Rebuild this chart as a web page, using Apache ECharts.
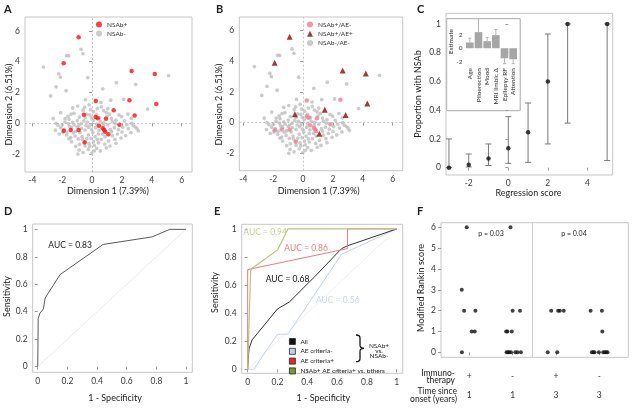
<!DOCTYPE html>
<html>
<head>
<meta charset="utf-8">
<script src="https://cdn.jsdelivr.net/npm/echarts@6/dist/echarts.min.js"></script>
<style>
html, body { margin: 0; padding: 0; background: #fff; }
#main { width: 632px; height: 408px; }
</style>
</head>
<body>
<div id="main"></div>
<script>
// ---- A / B : PCA scatter ----
const nsabNeg = [
  [-3.26,3.66],[-0.74,4.81],[-0.61,4.52],[-1.7,4.39],[-1.57,4.39],[-2.23,3.22],[-2.12,3.0],[-0.29,2.97],
  [-2.41,2.37],[-1.74,2.12],[-2.77,1.78],[1.62,2.64],[0.72,2.24],[2.92,2.53],[5.12,3.09],[-0.44,1.53],
  [2.11,1.55],[3.72,0.92],
  [-0.96,1.12],[-0.5,1.04],[0.62,1.06],[-2.1,0.69],[-1.41,0.6],[-1.21,0.65],[-0.36,0.58],[-0.09,0.88],
  [0.78,0.82],[1.16,0.6],[1.8,0.54],[1.98,0.43],[2.63,0.32],[-0.47,0.36],[-1.54,0.26],[-1.81,0.08],
  [-2.41,0.0],[-2.28,-0.13],[-1.59,-0.03],[-1.3,0.06],[-0.99,0.17],[-0.74,-0.03],[-0.3,0.08],[-0.12,-0.09],
  [0.08,0.19],[0.55,0.1],[0.78,0.02],[1.36,0.1],[1.56,-0.03],[2.16,0.15],[2.32,-0.09],[2.65,0.0],
  [2.76,-0.16],[3.01,-0.35],[3.1,-0.5],[-2.1,-0.29],[-1.86,-0.39],[-1.68,-0.57],[-1.37,-0.29],[-1.1,-0.52],
  [-0.72,-0.33],[-0.47,-0.44],[-0.23,-0.26],[-0.03,-0.42],[0.24,-0.29],[0.46,-0.46],[1.22,-0.39],[1.49,-0.29],
  [1.76,-0.42],[2.0,-0.57],[2.43,-0.35],[-1.7,-0.76],[-1.43,-0.94],[-1.14,-0.83],[-0.92,-1.02],[-0.67,-0.87],
  [-0.25,-0.76],[-0.07,-0.98],[0.2,-0.87],[0.42,-0.7],[0.62,-1.04],[0.87,-0.87],[1.36,-0.81],[1.53,-1.04],
  [1.94,-0.96],[-1.37,-1.2],[-0.85,-1.37],[-0.47,-1.48],[-0.21,-1.31],[0.15,-1.44],[0.42,-1.26],[0.84,-1.35],
  [1.2,-1.48],[-0.87,-1.74],[-0.25,-1.7],[-0.03,-1.96],[0.31,-1.63],[-0.47,-1.2],
  [-1.2,-0.1],[-0.55,0.15],[0.3,0.55],[0.1,0.75],[-0.2,1.2],[-0.6,0.85],[1.0,0.45],[1.3,0.3],
  [1.05,-0.1],[0.3,-0.05],[-0.05,0.35],[-0.85,0.4],[-1.6,0.45],[-2.0,-0.1],[-1.95,-0.6],[-1.25,-0.62],
  [-0.8,-0.6],[-0.35,-1.0],[0.05,-0.6],[0.7,-0.7],[1.1,-1.15],[1.7,-0.7],[2.25,-0.8],[2.9,-0.25],
  [0.95,-1.6],[-1.1,-1.5],[-0.6,-1.9],[0.55,-1.8],[-2.45,-0.45],[-1.0,-0.25],[0.35,0.95],[1.25,1.5],
  [0.6,1.35],[-1.3,1.0],
  [-1.5,-0.2],[-0.9,-0.15],[-0.15,0.55],[0.5,0.35],[0.95,0.7],[1.6,0.2],[2.05,-0.25],[1.3,-0.55],
  [0.35,-1.05],[-0.15,-1.5],[-0.65,-1.05],[-1.55,-1.0],[-2.2,-0.7],[0.1,-1.2],[0.75,-0.15],[-0.4,-0.15],
  [-1.8,0.3],[2.4,0.6],[1.05,0.95],[-0.95,-2.0],[0.15,-1.8],[1.6,-1.3],[2.6,-0.6],[-2.6,0.3]
];
const nsabPosAEneg = [
  [0.25,1.45],[2.5,1.5],[0.24,0.4],[0.38,0.32],[0.93,0.29],[0.46,-0.16],[1.83,-0.1],
  [0.72,-0.33],[0.81,-0.44],[0.88,-0.55],[-1.9,-0.49],[-1.43,-0.44],[-0.9,-0.44],[-0.5,-1.25]
];
const nsabPosAEpos = [
  [-0.9,5.6],[-1.9,3.9],[2.65,3.4],[4.2,3.2],[4.3,1.25],[1.45,0.85],[-0.55,0.55],[2.85,0.5],[1.09,-0.72]
];
const pcaTicksX = [-4, -2, 0, 2, 4, 6];
const pcaTicksY = [-2, 0, 2, 4, 6];

// ---- C : proportion with NSAb by regression score ----
const scoreX = [-3, -2, -1, 0, 1, 2, 3, 5];
const propNSAb = [0, 0.02, 0.063, 0.135, 0.246, 0.6, 1, 1];
const propLow = [0, 0.005, 0.015, 0.03, 0.037, 0.165, 0.31, 0.05];
const propHigh = [0.2, 0.095, 0.165, 0.355, 0.45, 0.93, 1, 1];
const scoreTicks = [-2, 0, 2, 4];
const propTicks = [0, 0.2, 0.4, 0.6, 0.8, 1];

// inset: regression estimates
const insetVars = ['Age', 'Piloerection', 'Mood', 'MRI limbic \u0394', 'Epilepsy RF', 'Attention'];
const insetEst = [0.85, 2.4, 1.05, 1.95, -1.5, -1.65];
const insetErrEnd = [1.5, 4.4, 1.6, 2.8, -2.3, -2.3];
const insetTicks = [-2, 0, 2];

// ---- D : ROC ----
const rocFpr = [0, 0.003, 0.015, 0.027, 0.038, 0.05, 0.15, 0.44, 0.77, 0.89, 1];
const rocTpr = [0, 0.35, 0.39, 0.39, 0.42, 0.5, 0.67, 0.89, 0.945, 1, 1];
const unitTicks = [0, 0.2, 0.4, 0.6, 0.8, 1];

// ---- E : ROC by subgroup ----
const rocAll = [[0,0],[0.005,0.1],[0.01,0.15],[0.03,0.21],[0.2,0.43],[0.28,0.48],[0.45,0.66],[0.63,0.86],[0.67,0.88],[1,1]];
const rocAEneg = [[0,0],[0.04,0],[0.2,0.25],[0.27,0.25],[0.63,0.82],[1,1]];
const rocAEpos = [[0,0],[0,0.71],[0.67,0.86],[0.67,1],[1,1]];
const rocCombo = [[0,0],[0.02,0.7],[0.03,0.72],[0.2,0.85],[0.27,1],[1,1]];

// ---- F : modified Rankin score ----
const mrsPoints = [
  [0.94,6],[1.95,6],[0.825,3],
  [0.88,2],[1.14,2],[2.0,2],[2.17,2],[2.89,2],[3.05,2],[3.09,2],[3.18,2],[3.8,2],[4.06,2],
  [1.055,1],[1.125,1],[1.85,1],[1.88,1],[1.98,1],[4.07,1],
  [0.83,0],[1.86,0],[1.89,0],[1.92,0],[1.96,0],[2.06,0],[2.11,0],[2.19,0],[2.81,0],[3.03,0],
  [3.83,0],[3.86,0],[3.89,0],[3.99,0],[4.09,0],[4.13,0],[4.16,0],[4.19,0]
];
const groupTicks = [1, 2, 3, 4];
const immunoLabels = ['+', '-', '+', '-'];
const onsetLabels = ['1', '1', '3', '3'];
const mrsTicks = [0, 1, 2, 3, 4, 5, 6];

const FONT = 'Lato';
const chart = echarts.init(document.getElementById('main'), null, { renderer: 'canvas' });

function vAxis(grid, min, max, ticks, margin) {
  return {
    type: 'value', gridIndex: grid, min: min, max: max,
    splitLine: { show: false },
    axisLine: { show: false },
    axisTick: { show: true, length: 3, customValues: ticks, lineStyle: { color: '#9a9a9a' } },
    axisLabel: { customValues: ticks, fontSize: 8.5, color: '#3a3a3a', fontFamily: FONT, margin: margin }
  };
}

function errRender(params, api) {
  const x = api.value(0);
  const p1 = api.coord([x, api.value(1)]);
  const p2 = api.coord([x, api.value(2)]);
  const w = 3;
  const st = { stroke: '#7a7a7a', lineWidth: 1 };
  return { type: 'group', children: [
    { type: 'line', shape: { x1: p1[0], y1: p1[1], x2: p2[0], y2: p2[1] }, style: st },
    { type: 'line', shape: { x1: p1[0] - w, y1: p1[1], x2: p1[0] + w, y2: p1[1] }, style: st },
    { type: 'line', shape: { x1: p2[0] - w, y1: p2[1], x2: p2[0] + w, y2: p2[1] }, style: st }
  ] };
}

function insetErrRender(params, api) {
  const i = api.value(0);
  const p1 = api.coord([i, api.value(1)]);
  const p2 = api.coord([i, api.value(2)]);
  const st = { stroke: '#b4b4b4', lineWidth: 1 };
  return { type: 'group', children: [
    { type: 'line', shape: { x1: p1[0], y1: p1[1], x2: p2[0], y2: p2[1] }, style: st },
    { type: 'line', shape: { x1: p2[0] - 1.5, y1: p2[1], x2: p2[0] + 1.5, y2: p2[1] }, style: st }
  ] };
}

function txt(x, y, s, o) {
  o = o || {};
  const font = (o.bold ? 'bold ' : '') + (o.size || 8.5) + 'px ' + FONT;
  return {
    type: 'text', x: x, y: y, rotation: o.rot || 0, z: 10,
    style: {
      text: s, fill: o.color || '#222', font: font,
      align: o.align || 'center', verticalAlign: o.va || 'middle',
      textAlign: o.align || 'center', textVerticalAlign: o.va || 'middle'
    }
  };
}

function brace(x, y0, y1) {
  const m = (y0 + y1) / 2;
  const st = { stroke: '#111', lineWidth: 1.3, fill: null };
  const seg = function (a, b, c) {
    return { type: 'bezierCurve', z: 10, shape: { x1: a[0], y1: a[1], x2: b[0], y2: b[1], cpx1: c[0], cpy1: c[1] }, style: st };
  };
  return [
    seg([x - 4, y0], [x, y0 + 3], [x, y0]),
    { type: 'line', z: 10, shape: { x1: x, y1: y0 + 3, x2: x, y2: m - 3 }, style: st },
    seg([x, m - 3], [x + 4, m], [x, m]),
    seg([x + 4, m], [x, m + 3], [x, m]),
    { type: 'line', z: 10, shape: { x1: x, y1: m + 3, x2: x, y2: y1 - 3 }, style: st },
    seg([x, y1 - 3], [x - 4, y1], [x, y1])
  ];
}

const zeroLines = {
  silent: true, symbol: 'none', label: { show: false },
  lineStyle: { color: '#b8b8b8', type: [2, 2], width: 0.8 },
  data: [{ xAxis: 0 }, { yAxis: 0 }]
};

const box = { show: true, borderColor: '#c6c6c6', borderWidth: 1 };
const R = Math.PI / 2;

const option = {
  animation: false,
  backgroundColor: '#ffffff',
  grid: [
    Object.assign({ left: 25, top: 17, width: 167, height: 155 }, box),
    Object.assign({ left: 239.3, top: 17, width: 163.4, height: 153.7 }, box),
    Object.assign({ left: 446, top: 13.3, width: 166.7, height: 161.7 }, box),
    { left: 465.5, top: 18.7, width: 52, height: 46.3, show: false },
    Object.assign({ left: 32.7, top: 224, width: 159.6, height: 148.3 }, box),
    Object.assign({ left: 241.7, top: 224.3, width: 161, height: 149 }, box),
    Object.assign({ left: 441, top: 222.7, width: 187.3, height: 134.6 }, box)
  ],
  xAxis: [
    vAxis(0, -4.49, 6.69, pcaTicksX, 4),
    vAxis(1, -4.27, 6.67, pcaTicksX, 4),
    vAxis(2, -3.15, 5.28, scoreTicks, 4),
    {
      type: 'category', gridIndex: 3, data: insetVars, z: 3,
      axisLine: { show: false }, axisTick: { show: false },
      axisLabel: { rotate: 90, interval: 0, fontSize: 6.5, color: '#333', fontFamily: FONT, margin: 3 }
    },
    vAxis(4, -0.034, 1.042, unitTicks, 4),
    vAxis(5, -0.04, 1.04, unitTicks, 4),
    (function () {
      const a = vAxis(6, 0.346, 4.67, groupTicks, 9);
      a.axisLabel.formatter = function (v) {
        const i = groupTicks.indexOf(v);
        return '{a|' + immunoLabels[i] + '}\n{b|' + onsetLabels[i] + '}';
      };
      a.axisLabel.rich = {
        a: { fontSize: 8.5, lineHeight: 19, color: '#333', fontFamily: FONT },
        b: { fontSize: 8.5, lineHeight: 19, color: '#333', fontFamily: FONT }
      };
      return a;
    })()
  ],
  yAxis: [
    vAxis(0, -3.17, 6.91, pcaTicksY, 5),
    vAxis(1, -3.13, 6.89, pcaTicksY, 5),
    vAxis(2, -0.051, 1.074, propTicks, 5),
    (function () {
      const a = vAxis(3, -2.5, 4.4, insetTicks, 3);
      a.z = 3;
      a.axisTick.show = false;
      a.axisLabel.fontSize = 6.5;
      return a;
    })(),
    vAxis(4, -0.041, 1.039, unitTicks, 5),
    vAxis(5, -0.0285, 1.033, unitTicks, 5),
    vAxis(6, -0.24, 6.22, mrsTicks, 5)
  ],
  legend: [
    {
      left: 96, top: 21, orient: 'vertical', padding: 0, itemWidth: 6, itemHeight: 6, itemGap: 2,
      icon: 'circle', textStyle: { fontSize: 6.5, color: '#333', fontFamily: FONT },
      data: ['NSAb+', 'NSAb-']
    },
    {
      left: 307, top: 21, orient: 'vertical', padding: 0, itemWidth: 6, itemHeight: 6, itemGap: 2.3,
      icon: 'circle', textStyle: { fontSize: 6.5, color: '#333', fontFamily: FONT },
      data: ['NSAb+/AE-', { name: 'NSAb+/AE+', icon: 'triangle' }, 'NSAb-/AE-']
    },
    {
      left: 289, top: 338, orient: 'vertical', padding: 0, itemWidth: 6, itemHeight: 6, itemGap: 2.8,
      icon: 'rect', itemStyle: { borderColor: '#222', borderWidth: 0.8 },
      textStyle: { fontSize: 6.5, color: '#222', fontFamily: FONT },
      data: ['All', 'AE criteria-', 'AE criteria+', 'NSAb+ AE criteria+ vs. others']
    }
  ],
  series: [
    // A
    { name: 'NSAb-', type: 'scatter', xAxisIndex: 0, yAxisIndex: 0, data: nsabNeg,
      symbolSize: 3.7, itemStyle: { color: '#bebebe' }, markLine: zeroLines },
    { name: 'NSAb+', type: 'scatter', xAxisIndex: 0, yAxisIndex: 0,
      data: nsabPosAEneg.concat(nsabPosAEpos), symbolSize: 4.5, itemStyle: { color: '#ff1010' } },
    // B
    { name: 'NSAb-/AE-', type: 'scatter', xAxisIndex: 1, yAxisIndex: 1, data: nsabNeg,
      symbolSize: 3.7, itemStyle: { color: '#bebebe' }, markLine: zeroLines },
    { name: 'NSAb+/AE-', type: 'scatter', xAxisIndex: 1, yAxisIndex: 1, data: nsabPosAEneg,
      symbolSize: 4.5, itemStyle: { color: '#ee7d95' } },
    { name: 'NSAb+/AE+', type: 'scatter', xAxisIndex: 1, yAxisIndex: 1, data: nsabPosAEpos,
      symbol: 'triangle', symbolSize: 6, itemStyle: { color: '#8b0a0a' } },
    // C
    { type: 'custom', xAxisIndex: 2, yAxisIndex: 2, renderItem: errRender,
      encode: { x: 0, y: [1, 2] },
      data: scoreX.map(function (x, i) { return [x, propLow[i], propHigh[i]]; }) },
    { type: 'scatter', xAxisIndex: 2, yAxisIndex: 2, symbolSize: 4.5, z: 4,
      itemStyle: { color: '#111' },
      data: scoreX.map(function (x, i) { return [x, propNSAb[i]]; }) },
    // C inset
    { type: 'bar', xAxisIndex: 3, yAxisIndex: 3, data: insetEst, barCategoryGap: '12%',
      itemStyle: { color: '#a6a6a6' }, z: 5 },
    { type: 'custom', xAxisIndex: 3, yAxisIndex: 3, renderItem: insetErrRender, z: 5,
      encode: { x: 0, y: [1, 2] },
      data: insetVars.map(function (c, i) { return [i, insetEst[i], insetErrEnd[i]]; }) },
    // D
    { type: 'line', xAxisIndex: 4, yAxisIndex: 4, data: [[0, 0], [1, 1]], symbol: 'none',
      lineStyle: { color: '#ececec', width: 1 } },
    { type: 'line', xAxisIndex: 4, yAxisIndex: 4, symbol: 'none',
      data: rocFpr.map(function (f, i) { return [f, rocTpr[i]]; }),
      lineStyle: { color: '#5a5a5a', width: 1 } },
    // E
    { type: 'line', xAxisIndex: 5, yAxisIndex: 5, data: [[0, 0], [1, 1]], symbol: 'none',
      lineStyle: { color: '#f0f0f0', width: 1 } },
    { name: 'AE criteria-', type: 'line', xAxisIndex: 5, yAxisIndex: 5, data: rocAEneg, symbol: 'none',
      itemStyle: { color: '#c2d2ea' }, lineStyle: { color: '#c2d2ea', width: 1 } },
    { name: 'All', type: 'line', xAxisIndex: 5, yAxisIndex: 5, data: rocAll, symbol: 'none',
      itemStyle: { color: '#111' }, lineStyle: { color: '#333', width: 1 } },
    { name: 'AE criteria+', type: 'line', xAxisIndex: 5, yAxisIndex: 5, data: rocAEpos, symbol: 'none',
      itemStyle: { color: '#e8292b' }, lineStyle: { color: '#ef7b7b', width: 1 } },
    { name: 'NSAb+ AE criteria+ vs. others', type: 'line', xAxisIndex: 5, yAxisIndex: 5, data: rocCombo,
      symbol: 'none', itemStyle: { color: '#7a9a2e' }, lineStyle: { color: '#b9c47c', width: 1.2 } },
    // F
    { type: 'scatter', xAxisIndex: 6, yAxisIndex: 6, data: mrsPoints, symbolSize: 4,
      itemStyle: { color: '#111' },
      markLine: { silent: true, symbol: 'none', label: { show: false },
        lineStyle: { color: '#cfcfcf', type: 'solid', width: 1 }, data: [{ xAxis: 2.46 }] } }
  ],
  graphic: [
    { type: 'rect', z: -1, shape: { x: 446.7, y: 18.7, width: 73.5, height: 92 },
      style: { fill: '#fff', stroke: '#a8a8a8', lineWidth: 1 } },
    txt(451, 41.5, 'Estimate', { rot: R, size: 6.5 }),
    txt(4, 9, 'A', { bold: true, size: 11, align: 'left' }),
    txt(216, 9, 'B', { bold: true, size: 11, align: 'left' }),
    txt(417, 9, 'C', { bold: true, size: 11, align: 'left' }),
    txt(4, 211, 'D', { bold: true, size: 11, align: 'left' }),
    txt(214, 211, 'E', { bold: true, size: 11, align: 'left' }),
    txt(417, 211, 'F', { bold: true, size: 11, align: 'left' }),
    txt(108, 191, 'Dimension 1 (7.39%)', { size: 9 }),
    txt(9.3, 104.5, 'Dimension 2 (6.51%)', { rot: R, size: 9 }),
    txt(318.7, 191, 'Dimension 1 (7.39%)', { size: 9 }),
    txt(219.3, 104.5, 'Dimension 2 (6.51%)', { rot: R, size: 9 }),
    txt(528.5, 193, 'Regression score', { size: 9 }),
    txt(418.5, 94, 'Proportion with NSAb', { rot: R, size: 9 }),
    txt(115, 398, '1 - Specificity', { size: 9 }),
    txt(7.3, 296.5, 'Sensitivity', { rot: R, size: 9 }),
    txt(323.3, 398, '1 - Specificity', { size: 9 }),
    txt(215, 292.5, 'Sensitivity', { rot: R, size: 9 }),
    txt(421, 288, 'Modified Rankin score', { rot: R, size: 9 }),
    txt(48.3, 245, 'AUC = 0.83', { align: 'left', size: 8.5 }),
    txt(243.3, 232.3, 'AUC = 0.94', { align: 'left', size: 8.5, color: '#c9d08e' }),
    txt(284.3, 248.3, 'AUC = 0.86', { align: 'left', size: 8.5, color: '#ef7b7b' }),
    txt(265.7, 279.3, 'AUC = 0.68', { align: 'left', size: 8.5, color: '#111' }),
    txt(316, 300, 'AUC = 0.56', { align: 'left', size: 8.5, color: '#c8d6ea' })
  ].concat(brace(360, 335, 361.7), [
    txt(379, 345.5, 'NSAb+', { size: 6.5 }),
    txt(379, 350.8, 'vs.', { size: 6.5 }),
    txt(379, 356, 'NSAb-', { size: 6.5 }),
    txt(491, 233.3, 'p = 0.03', { size: 7 }),
    txt(574, 233.3, 'p = 0.04', { size: 7 }),
    txt(455, 373.3, 'Immuno-', { align: 'right', size: 8.5 }),
    txt(455, 380.5, 'therapy', { align: 'right', size: 8.5 }),
    txt(457, 391.7, 'Time since', { align: 'right', size: 8.5 }),
    txt(457, 398.8, 'onset (years)', { align: 'right', size: 8.5 })
  ])
};

chart.setOption(option);
</script>
</body>
</html>
